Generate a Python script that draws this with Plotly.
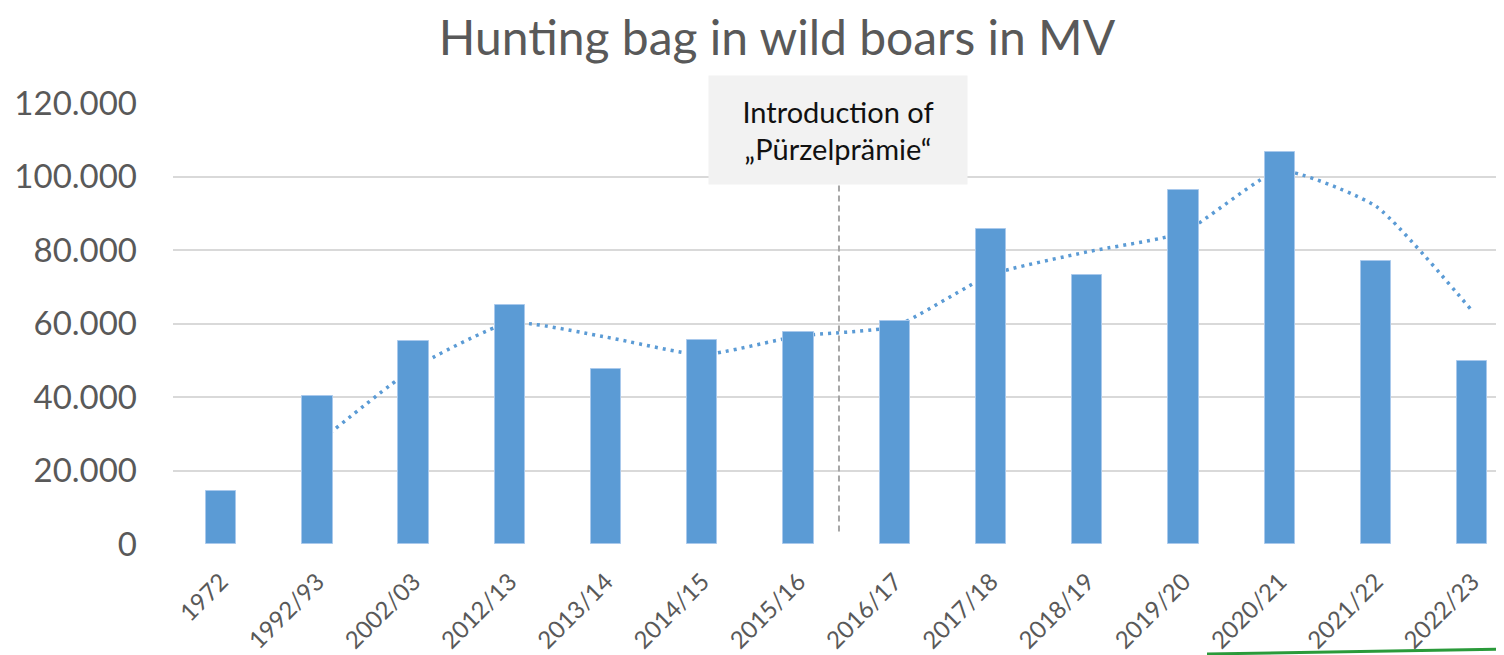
import plotly.graph_objects as go

categories = ["1972", "1992/93", "2002/03", "2012/13", "2013/14", "2014/15", "2015/16",
              "2016/17", "2017/18", "2018/19", "2019/20", "2020/21", "2021/22", "2022/23"]
hunting_bag = [14500, 40300, 55300, 65000, 47600, 55400, 57700,
               60700, 85800, 73100, 96400, 106700, 77100, 49700]
# dotted trend line (2-period moving average)
trend = [None, 27400, 47800, 60200, 56300, 51500, 56600,
         59200, 73300, 79500, 84800, 101600, 91900, 63400]
y_ticks = [0, 20000, 40000, 60000, 80000, 100000, 120000]

FONT = "Lato, 'Open Sans', sans-serif"
BLUE = "#5b9bd5"
GREY_TXT = "#595959"
x_range = [-0.5, 13.33]

# page body has an 8px default margin: figure is sized so the plot lands where the reference has it
W, H = 1496, 647
ML, MT, MB = 165, 95, 111
PW, PH = W - ML, H - MT - MB

fig = go.Figure()

# trend line on the base axes (drawn beneath the bars)
fig.add_trace(go.Scatter(
    x=categories, y=trend, mode="lines", xaxis="x", yaxis="y",
    line=dict(color=BLUE, width=3.5, dash="3px,5px", shape="spline", smoothing=0.5),
    connectgaps=False, showlegend=False, hoverinfo="skip",
))

# bars on overlaying axes so they sit above the trend line
fig.add_trace(go.Bar(
    x=categories, y=hunting_bag, xaxis="x2", yaxis="y2",
    marker=dict(color=BLUE, line=dict(color="#a9c9ec", width=1)),
    width=0.315, showlegend=False,
))

fig.update_layout(
    width=W, height=H,
    margin=dict(l=ML, r=0, t=MT, b=MB),
    paper_bgcolor="white", plot_bgcolor="white",
    separators=",.",
    font=dict(family=FONT, color=GREY_TXT),
    title=dict(text="Hunting bag in wild boars in MV", x=(777 - 8) / W, xanchor="center",
               xref="container", y=1 - 30 / H, yref="container", yanchor="middle",
               font=dict(family=FONT, size=48, color=GREY_TXT)),
    xaxis=dict(type="category", categoryorder="array", categoryarray=categories,
               range=x_range, showgrid=False, zeroline=False, showline=False,
               tickangle=-45, tickfont=dict(family=FONT, size=24, color=GREY_TXT),
               ticks="", ticklabelstandoff=18),
    yaxis=dict(range=[0, 120000], tickvals=y_ticks, tickformat=",d",
               showgrid=True, gridcolor="#d9d9d9", gridwidth=1.5, zeroline=False,
               showline=False, ticks="", ticklabelstandoff=35,
               tickfont=dict(family=FONT, size=33, color=GREY_TXT)),
    xaxis2=dict(type="category", categoryorder="array", categoryarray=categories,
                range=x_range, overlaying="x", visible=False),
    yaxis2=dict(range=[0, 120000], overlaying="y", visible=False),
    bargap=0,
)

# dashed marker line for the introduction of the "Pürzelprämie"
fig.add_shape(type="line", xref="x", yref="y", x0=6.42, x1=6.42, y0=3400, y1=98000,
              line=dict(color="#a6a6a6", width=2, dash="6px,4px"))

fig.add_annotation(
    xref="x", yref="y", x=6.41, y=112700,
    text="Introduction of<br>„Pürzelprämie“", showarrow=False,
    font=dict(family=FONT, size=29, color="#111111"),
    bgcolor="#f2f2f2", width=250, height=100, borderpad=4, align="center",
)

# green stroke at the bottom right of the slide
fig.add_shape(type="line", xref="paper", yref="paper",
              x0=(1207 - 173) / PW, y0=(544 - 654) / PH,
              x1=1.0, y1=(544 - 649) / PH,
              line=dict(color="#2a9a3a", width=3))

fig.write_html("out.html")
